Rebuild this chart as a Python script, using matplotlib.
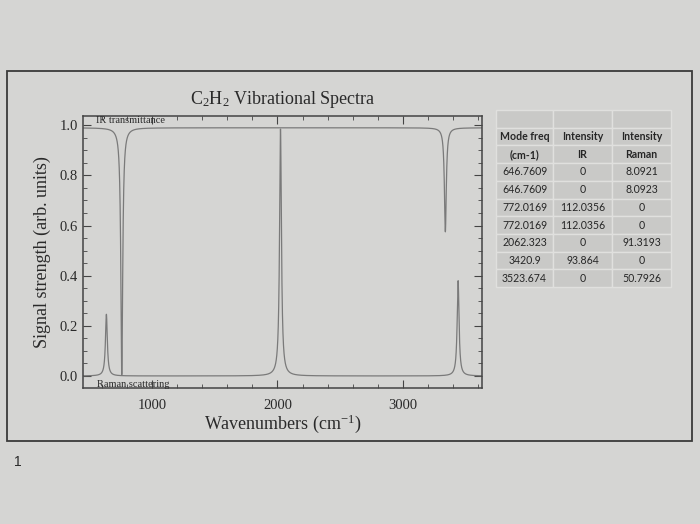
import numpy as np
import matplotlib.pyplot as plt
from matplotlib.patches import Rectangle
from matplotlib.ticker import MultipleLocator

plt.rcParams['font.family'] = ['Liberation Serif', 'DejaVu Serif']
plt.rcParams['mathtext.default'] = 'regular'

# peak positions / heights (cm-1, arb. units)
raman_pos = [632, 2024, 3444]
raman_height = [0.246, 0.985, 0.38]
ir_pos = [755, 3342]
ir_depth = [0.985, 0.415]
ir_base = 0.99
hwhm = 9.0

# table values
table_head = [['', '', ''], ['Mode freq', 'Intensity', 'Intensity'], ['(cm-1)', 'IR', 'Raman']]
mode_freq = ['646.7609', '646.7609', '772.0169', '772.0169', '2062.323', '3420.9', '3523.674']
int_ir = ['0', '0', '112.0356', '112.0356', '0', '93.864', '0']
int_raman = ['8.0921', '8.0923', '0', '0', '91.3193', '0', '50.7926']


def lorentz(x, x0, g):
    return g**2 / ((x - x0)**2 + g**2)


bg = '#d5d5d3'
ink = '#2a2a2a'
line_c = '#7a7a7a'

fig = plt.figure(figsize=(7, 5.24), dpi=100)
fig.patch.set_facecolor(bg)

# page frame
fig.patches.append(Rectangle((7 / 700, 1 - 441 / 524), 685 / 700, 370 / 524,
                             transform=fig.transFigure, fill=False,
                             edgecolor='#3a3a3a', linewidth=1.3))
fig.text(14 / 700, 1 - 462 / 524, '1', fontsize=10, color=ink,
         family=['Liberation Sans'], va='center')

ax = fig.add_axes([83 / 700, 1 - 388 / 524, 399 / 700, 272 / 524])
ax.set_facecolor(bg)

x = np.linspace(445, 3635, 12000)
raman = np.zeros_like(x)
for p, h in zip(raman_pos, raman_height):
    raman += h * lorentz(x, p, hwhm)
ir = np.full_like(x, ir_base)
for p, d in zip(ir_pos, ir_depth):
    ir -= d * lorentz(x, p, hwhm)

ax.plot(x, ir, color=line_c, lw=0.9)
ax.plot(x, raman, color=line_c, lw=0.9)

ax.set_xlim(445, 3635)
ax.set_ylim(-0.048, 1.037)
ax.xaxis.set_major_locator(MultipleLocator(1000))
ax.xaxis.set_minor_locator(MultipleLocator(200))
ax.yaxis.set_major_locator(MultipleLocator(0.2))
ax.yaxis.set_minor_locator(MultipleLocator(0.05))
ax.yaxis.set_major_formatter(plt.FormatStrFormatter('%.1f'))
ax.tick_params(which='both', direction='in', top=True, right=True,
               color='#444444', labelcolor=ink, labelsize=10.5)
ax.tick_params(which='major', length=6)
ax.tick_params(which='minor', length=3)
ax.tick_params(axis='x', which='major', pad=8)
for s in ax.spines.values():
    s.set_color('#444444')
    s.set_linewidth(1.1)

ax.set_title('C$_2$H$_2$ Vibrational Spectra', fontsize=13, color=ink, pad=9)
ax.set_xlabel('Wavenumbers (cm$^{-1}$)', fontsize=13, color=ink, labelpad=0)
ax.set_ylabel('Signal strength (arb. units)', fontsize=13, color=ink, labelpad=6)
ax.text(0.032, 0.985, 'IR transmittance', transform=ax.transAxes,
        fontsize=7.5, color=ink, va='center')
ax.text(0.034, 0.012, 'Raman scattering', transform=ax.transAxes,
        fontsize=7.5, color=ink, va='center')

# table
tax = fig.add_axes([496 / 700, 1 - 287 / 524, 175 / 700, 177 / 524])
tax.axis('off')
rows = table_head + [list(r) for r in zip(mode_freq, int_ir, int_raman)]
tbl = tax.table(cellText=rows, colWidths=[0.326, 0.337, 0.337],
                cellLoc='center', bbox=[0, 0, 1, 1])
tbl.auto_set_font_size(False)
for (r, c), cell in tbl.get_celld().items():
    cell.set_facecolor('#c9c9c7')
    cell.set_edgecolor('#e0e0de')
    cell.set_linewidth(1.0)
    t = cell.get_text()
    t.set_fontsize(7.6)
    t.set_color('#262626')
    t.set_family(['Lato', 'DejaVu Sans'])
    if r in (1, 2):
        t.set_fontweight('bold')

fig.savefig('out.png', dpi=100, facecolor=bg)
